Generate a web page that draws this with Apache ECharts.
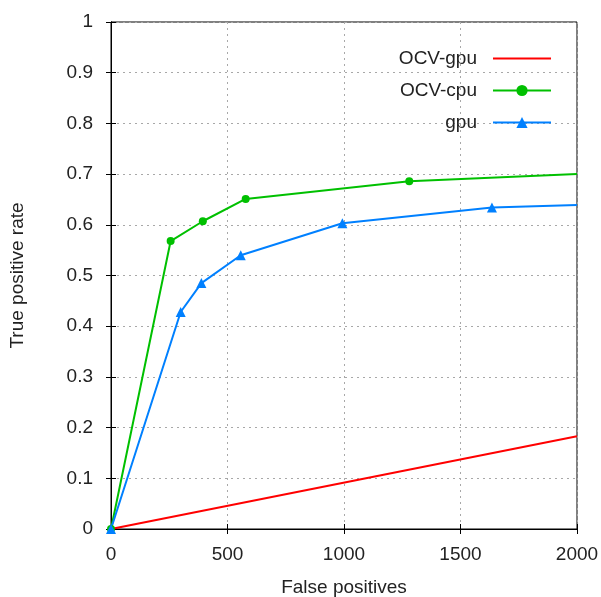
<!DOCTYPE html>
<html>
<head>
<meta charset="utf-8">
<script src="https://cdn.jsdelivr.net/npm/echarts@6/dist/echarts.min.js"></script>
<style>html,body{margin:0;padding:0;background:#fff}#c{width:601px;height:597px}</style>
</head>
<body>
<div id="c"></div>
<script>
const seriesNames = ['OCV-gpu', 'OCV-cpu', 'gpu'];
const ocvGpu = [[0, 0], [2000, 0.183]];
const ocvCpu = [[0, 0], [256, 0.568], [394, 0.607], [578, 0.651], [1280, 0.686], [2000, 0.700]];
const gpu = [[0, 0], [299, 0.428], [388, 0.485], [557, 0.540], [993, 0.603], [1635, 0.634], [2000, 0.639]];
const xTicks = [0, 500, 1000, 1500, 2000];
const yTicks = [0, 0.1, 0.2, 0.3, 0.4, 0.5, 0.6, 0.7, 0.8, 0.9, 1];
const xTitle = 'False positives';
const yTitle = 'True positive rate';

const FONT = 'Liberation Sans, Arial, sans-serif';
const TXT = '#222';
function endNoSymbol(arr) {
  return arr.map((p, i) => i === arr.length - 1 ? {value: p, symbol: 'none'} : p);
}
const chart = echarts.init(document.getElementById('c'), null, {renderer: 'canvas'});
const tickCommon = {show: true, inside: true, length: 5, lineStyle: {color: '#000', width: 1}};
chart.setOption({
  animation: false,
  backgroundColor: '#fff',
  grid: {left: 111, right: 24, top: 22, bottom: 68, containLabel: false, outerBoundsMode: 'none',
    show: true, borderColor: '#000', borderWidth: 1, backgroundColor: 'transparent'},
  legend: {
    orient: 'vertical', right: 44, top: 44, align: 'right',
    itemWidth: 58, itemHeight: 14, itemGap: 13,
    data: [
      {name: seriesNames[0], itemStyle: {opacity: 0}},
      {name: seriesNames[1]},
      {name: seriesNames[2]}
    ],
    textStyle: {fontFamily: FONT, fontSize: 19, color: TXT, lineHeight: 19, padding: [0, 11, 0, 0]}
  },
  xAxis: [{
    type: 'value', min: 0, max: 2000, interval: 500,
    name: xTitle, nameLocation: 'middle', nameGap: 49,
    nameTextStyle: {fontFamily: FONT, fontSize: 19, color: TXT},
    axisLine: {show: true, lineStyle: {color: '#000', width: 1}},
    axisTick: tickCommon,
    axisLabel: {fontFamily: FONT, fontSize: 19, color: TXT, margin: 16,
      formatter: v => xTicks.includes(v) ? String(v) : ''},
    splitLine: {show: true, lineStyle: {color: '#a8a8a8', type: [2, 4], width: 1}}
  }, {
    type: 'value', min: 0, max: 2000, interval: 500, position: 'top',
    axisLine: {show: true, lineStyle: {color: '#000'}},
    axisTick: tickCommon, axisLabel: {show: false}, splitLine: {show: false}
  }],
  yAxis: [{
    type: 'value', min: 0, max: 1, interval: 0.1,
    name: yTitle, nameLocation: 'middle', nameGap: 84,
    nameTextStyle: {fontFamily: FONT, fontSize: 19, color: TXT},
    axisLine: {show: true, lineStyle: {color: '#000', width: 1}},
    axisTick: tickCommon,
    axisLabel: {fontFamily: FONT, fontSize: 19, color: TXT, margin: 18,
      formatter: v => { const t = yTicks.find(y => Math.abs(y - v) < 1e-9); return t === undefined ? '' : String(t); }},
    splitLine: {show: true, lineStyle: {color: '#a8a8a8', type: [2, 4], width: 1}}
  }, {
    type: 'value', min: 0, max: 1, interval: 0.1, position: 'right',
    axisLine: {show: true, lineStyle: {color: '#000'}},
    axisTick: tickCommon, axisLabel: {show: false}, splitLine: {show: false}
  }],
  series: [{
    name: seriesNames[0], type: 'line', data: ocvGpu, symbol: 'none',
    lineStyle: {color: '#ff0000', width: 2}, itemStyle: {color: '#ff0000'}
  }, {
    name: seriesNames[1], type: 'line', data: endNoSymbol(ocvCpu), symbol: 'circle', symbolSize: 8,
    lineStyle: {color: '#00c000', width: 2}, itemStyle: {color: '#00c000'}
  }, {
    name: seriesNames[2], type: 'line', data: endNoSymbol(gpu), symbol: 'triangle', symbolSize: 10,
    lineStyle: {color: '#0080ff', width: 2}, itemStyle: {color: '#0080ff'}
  }]
});
</script>
</body>
</html>
